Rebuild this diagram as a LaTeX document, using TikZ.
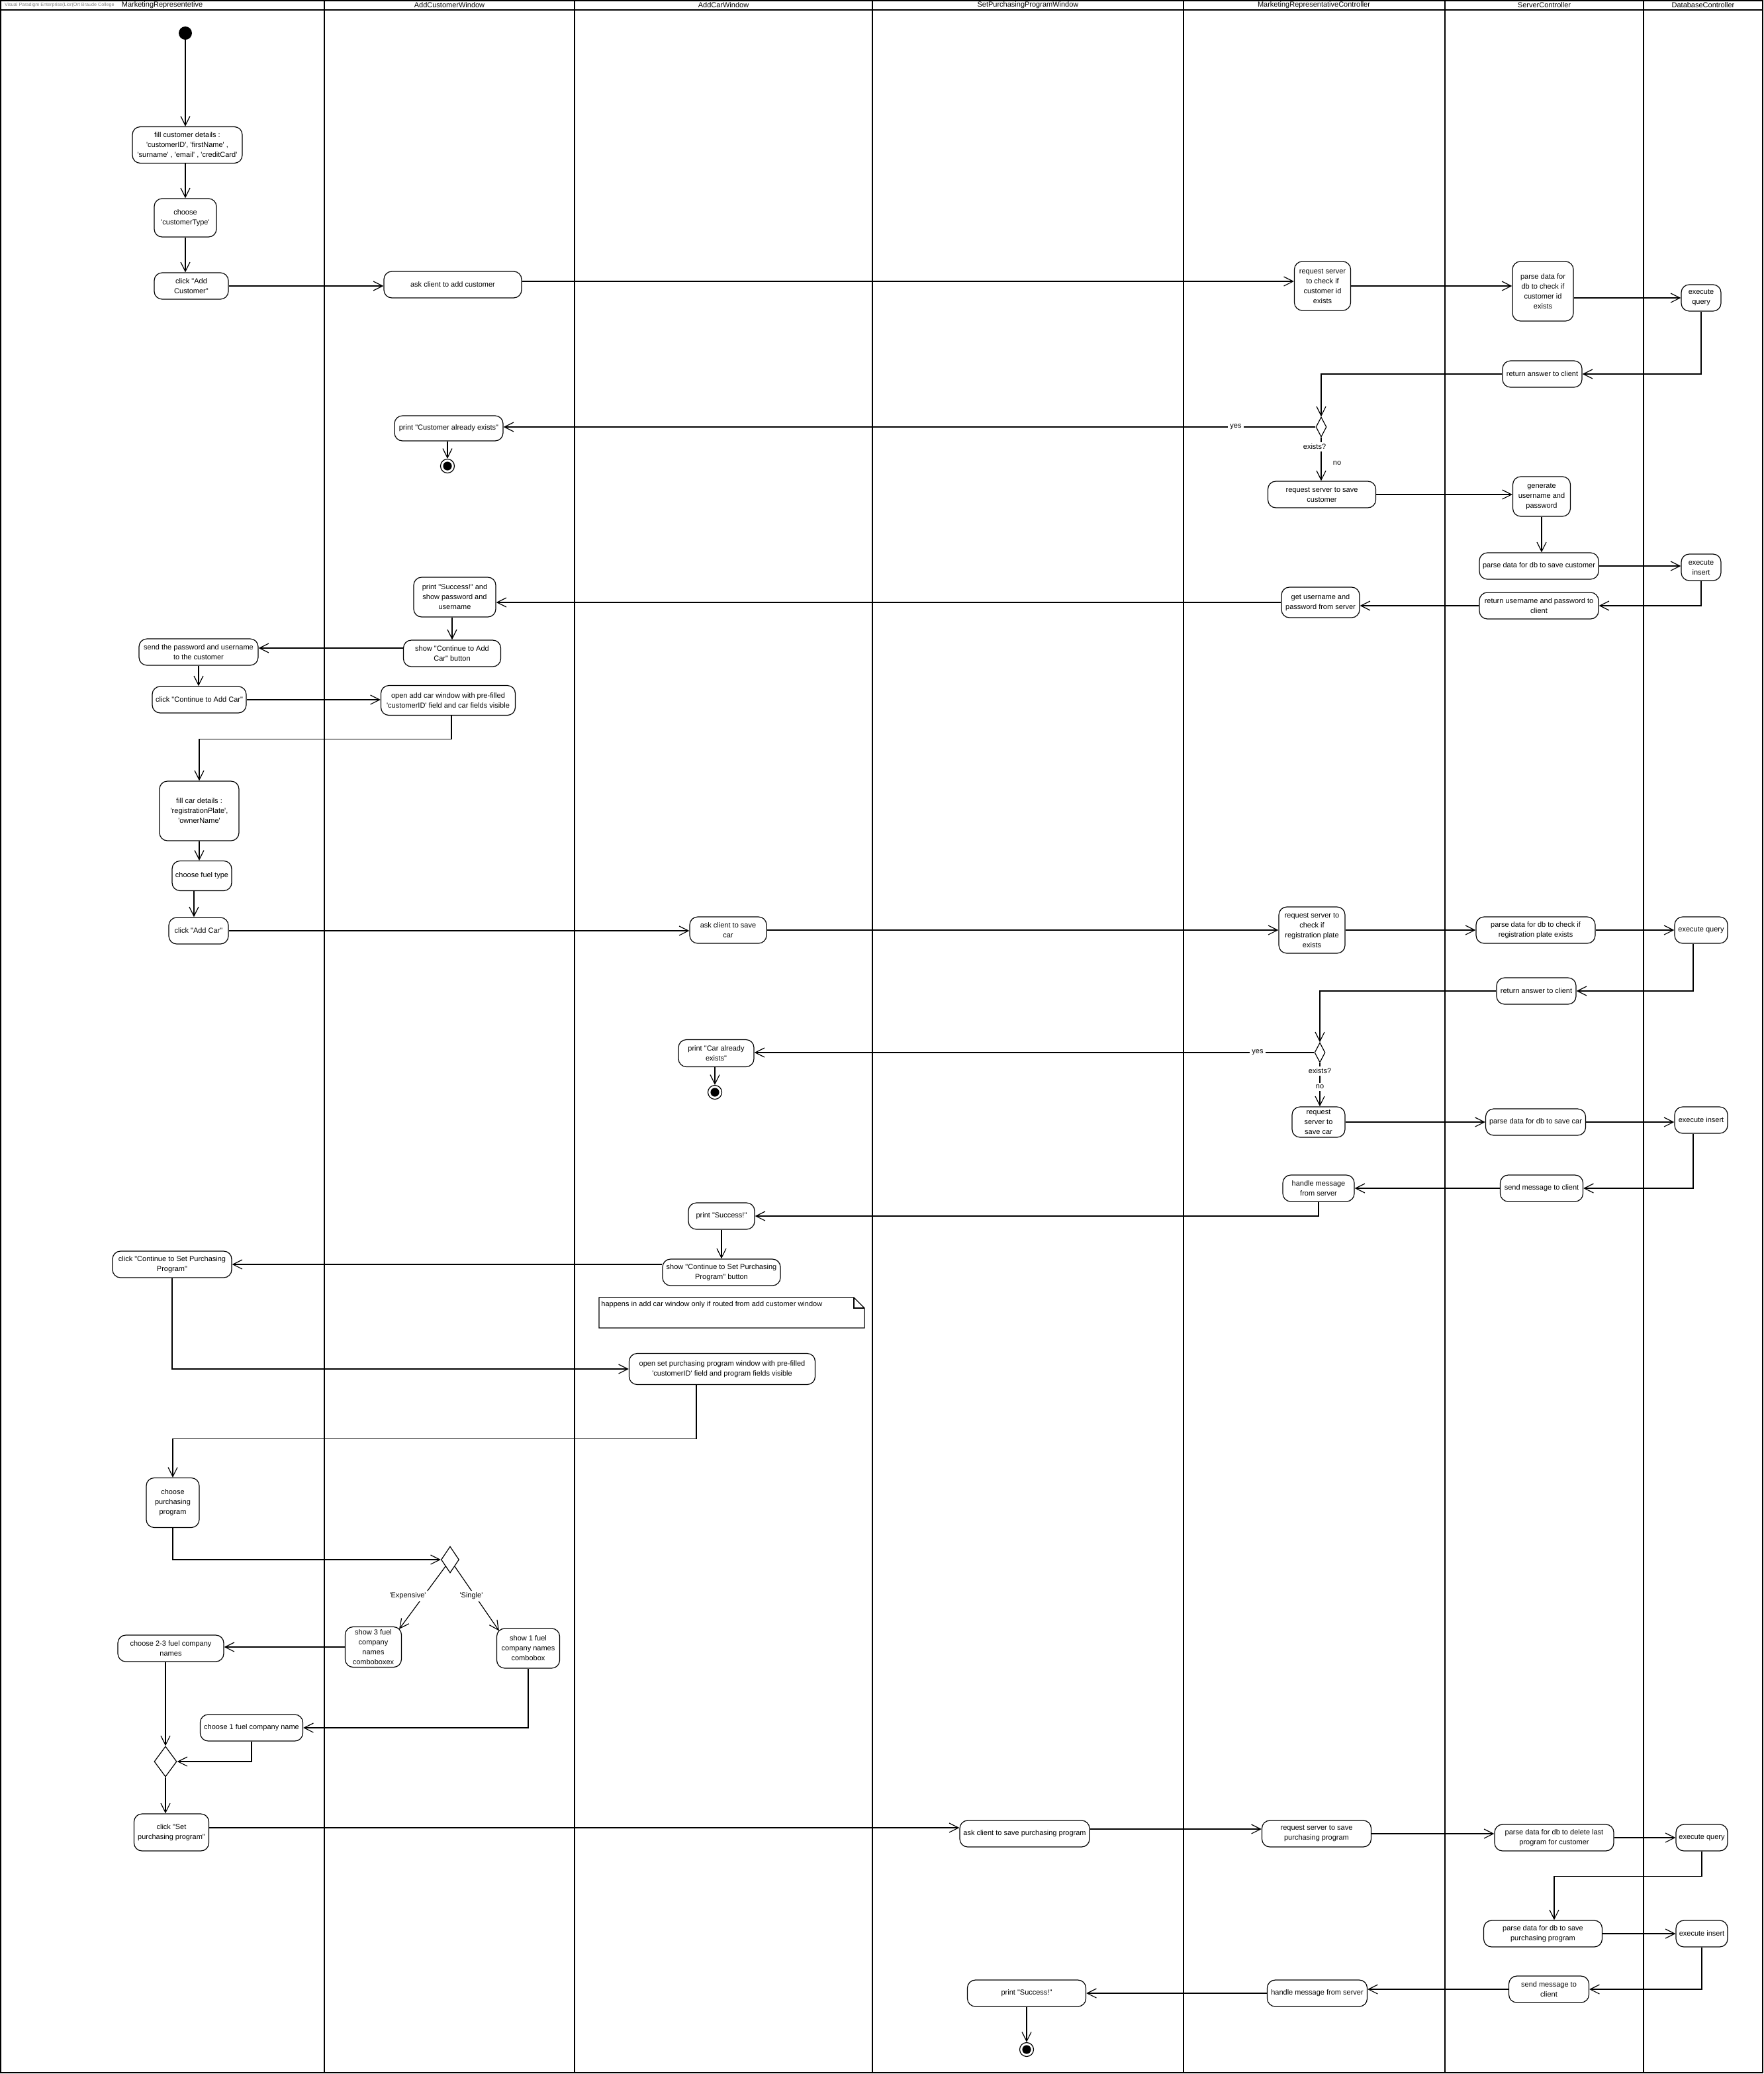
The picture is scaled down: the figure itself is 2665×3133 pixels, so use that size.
\documentclass[tikz,border=0pt]{standalone}
\usepackage{fontspec}
\setmainfont{Liberation Sans}[Ligatures=TeXOff]
\usetikzlibrary{arrows.meta,shapes.geometric}
\newcommand\bxfont{\fontsize{5.5pt}{7.5pt}\selectfont}

\begin{document}
\begin{tikzpicture}[x=0.5pt,y=-0.5pt,
  act/.style={draw, rounded corners=6pt, align=center, inner sep=1pt, font=\bxfont, line width=0.6pt},
  sz/.style 2 args={minimum width=#1*0.5pt, minimum height=#2*0.5pt},
  arr/.style={-{Straight Barb[length=7pt,width=7pt]}, line width=0.6pt},
  flow/.style={line width=0.6pt},
  lane/.style={line width=1.3pt},
  dec/.style={draw, diamond, inner sep=0pt, line width=0.6pt, fill=white},
  lbl/.style={fill=white, inner sep=1.5pt, font=\bxfont},
  start/.style={circle, fill=black, minimum size=10pt, inner sep=0pt},
  stop/.style={circle, draw, line width=0.6pt, minimum size=10.5pt, inner sep=0pt,
    path picture={\fill[black] (path picture bounding box.center) circle (3.3pt);}},
  title/.style={font=\bxfont},
]
\useasboundingbox (0,0) rectangle (2665,3133);

% swimlane frame
\draw[lane] (1,1) rectangle (2663,3131);
\draw[lane] (1,15) -- (2663,15);
\foreach \lx in {490,868,1318,1788,2183,2483}
  \draw[lane] (\lx,1) -- (\lx,3131);
\node[anchor=west, text=gray, font=\fontsize{3.6pt}{4pt}\selectfont] (wm) at (0,8) {Visual Paradigm Enterprise(Lior(Ort Braude College};
\node[title] (t1) at (245,8) {MarketingRepresentetive};
\node[title] (t2) at (679,8) {AddCustomerWindow};
\node[title] (t3) at (1093,8) {AddCarWindow};
\node[title] (t4) at (1553,8) {SetPurchasingProgramWindow};
\node[title] (t5) at (1985,8) {MarketingRepresentativeController};
\node[title] (t6) at (2333,8) {ServerController};
\node[title] (t7) at (2573,8) {DatabaseController};

% ---- add customer ----
\node[start] (init) at (280,50) {};
\node[act, sz={166}{55}] (fillcust) at (283,219) {fill customer details :\\'customerID', 'firstName' ,\\'surname' , 'email' , 'creditCard'};
\node[act, sz={94}{58}] (ctype) at (280,329) {choose\\'customerType'};
\node[act, sz={112}{40}] (clickac) at (289,432) {click "Add\\Customer"};
\node[act, sz={208}{40}] (askcust) at (684,430) {ask client to add customer};
\node[act, sz={85}{74}] (reqcid) at (1998,432) {request server\\to check if\\customer id\\exists};
\node[act, sz={92}{90}] (parsecid) at (2331,440) {parse data for\\db to check if\\customer id\\exists};
\node[act, sz={60}{40}] (exq1) at (2570,450) {execute\\query};
\node[act, sz={120}{40}] (ans1) at (2330,565) {return answer to client};
\node[dec, minimum width=8pt, minimum height=15pt] (dec1) at (1996,645) {};
\node[act, sz={164}{38}] (custexists) at (678,647) {print "Customer already exists"};
\node[stop] (end1) at (676,704) {};
\node[act, sz={163}{40}] (savecust) at (1997,747) {request server to save\\customer};
\node[act, sz={87}{60}] (genup) at (2329,750) {generate\\username and\\password};
\node[act, sz={180}{40}] (parsesave) at (2325,855) {parse data for db to save customer};
\node[act, sz={60}{40}] (exi1) at (2570,857) {execute\\insert};
\node[act, sz={180}{40}] (retup) at (2325,915) {return username and password to\\client};
\node[act, sz={118}{46}] (getup) at (1995,910) {get username and\\password from server};
\node[act, sz={124}{60}] (printok1) at (687,902) {print "Success!" and\\show password and\\username};
\node[act, sz={147}{40}] (showcont) at (683,987) {show "Continue to Add\\Car" button};
\node[act, sz={180}{40}] (sendpw) at (300,985) {send the password and username\\to the customer};
\node[act, sz={142}{40}] (clickcont) at (301,1057) {click "Continue to Add Car"};
\node[act, sz={203}{45}] (opencar) at (677,1058) {open add car window with pre-filled\\'customerID' field and car fields visible};

% ---- add car ----
\node[act, sz={120}{90}] (fillcar) at (301,1225) {fill car details :\\'registrationPlate',\\'ownerName'};
\node[act, sz={90}{45}] (fuel) at (305,1323) {choose fuel type};
\node[act, sz={90}{40}] (clickcar) at (300,1406) {click "Add Car"};
\node[act, sz={116}{40}] (askcar) at (1100,1405) {ask client  to save\\car};
\node[act, sz={100}{70}] (reqplate) at (1982,1405) {request server to\\check if\\registration plate\\exists};
\node[act, sz={180}{40}] (parseplate) at (2320,1405) {parse data for db to check if\\registration plate exists};
\node[act, sz={80}{40}] (exq2) at (2570,1405) {execute  query};
\node[act, sz={120}{40}] (ans2) at (2321,1497) {return answer to client};
\node[dec, minimum width=8pt, minimum height=15pt] (dec2) at (1994,1590) {};
\node[act, sz={114}{41}] (carexists) at (1082,1591) {print "Car already\\exists"};
\node[stop] (end2) at (1080,1650) {};
\node[act, sz={80}{46}] (savecar) at (1992,1695) {request\\server to\\save car};
\node[act, sz={151}{40}] (parsecar) at (2320,1695) {parse data for db to save car};
\node[act, sz={80}{40}] (exi2) at (2570,1692) {execute insert};
\node[act, sz={125}{40}] (msg2) at (2329,1795) {send message to client};
\node[act, sz={108}{40}] (handle2) at (1992,1795) {handle message\\from server};
\node[act, sz={100}{40}] (printok2) at (1090,1837) {print "Success!"};
\node[act, sz={178}{40}] (showspp) at (1090,1922) {show "Continue to Set Purchasing\\Program" button};
\node[act, sz={180}{40}] (clickspp) at (260,1910) {click "Continue to Set Purchasing\\Program"};

% note with folded corner
\draw[flow] (905,1960) -- (1290,1960) -- (1306,1976) -- (1306,2006) -- (905,2006) -- cycle;
\draw[flow] (1290,1960) -- (1290,1976) -- (1306,1976);
\node[anchor=north west, font=\bxfont, inner sep=1pt] (note) at (906,1963) {happens in add car window only if routed from add customer window};

% ---- purchasing program ----
\node[act, sz={281}{47}] (openspp) at (1091,2068) {open set purchasing program window with pre-filled\\'customerID' field and program fields visible};
\node[act, sz={80}{75}] (choosepp) at (261,2270) {choose\\purchasing\\program};
\node[dec, minimum width=13.5pt, minimum height=20pt] (dec3) at (680,2356) {};
\node[act, sz={85}{61}] (show3) at (564,2488) {show 3 fuel\\company\\names\\comboboxex};
\node[act, sz={95}{60}] (show1) at (798,2490) {show 1 fuel\\company names\\combobox};
\node[act, sz={160}{40}] (choose23) at (258,2490) {choose  2-3 fuel company\\names};
\node[act, sz={155}{40}] (choose1) at (380,2610) {choose  1 fuel company name};
\node[dec, minimum width=17pt, minimum height=23pt] (merge) at (250,2661) {};
\node[act, sz={113}{56}] (clickset) at (259,2768) {click "Set\\purchasing program"};
\node[act, sz={196}{40}] (asksave) at (1548,2770) {ask client to save purchasing program};
\node[act, sz={165}{40}] (reqsave) at (1989,2770) {request server to save\\purchasing program};
\node[act, sz={180}{40}] (parsedel) at (2348,2776) {parse data for db to delete last\\program for customer};
\node[act, sz={78}{40}] (exq3) at (2571,2776) {execute query};
\node[act, sz={179}{40}] (parsepp) at (2331,2921) {parse data for db to save\\purchasing program};
\node[act, sz={78}{40}] (exi3) at (2571,2921) {execute insert};
\node[act, sz={121}{40}] (msg3) at (2340,3005) {send message to\\client};
\node[act, sz={151}{40}] (handle3) at (1990,3011) {handle message from server};
\node[act, sz={179}{40}] (printok3) at (1551,3011) {print "Success!"};
\node[stop] (end3) at (1551,3096) {};

% connector start points that sit off a box's centre line
\coordinate (askcustout) at ([yshift=2.5pt]askcust.east);
\coordinate (showcontout) at ([yshift=4pt]showcont.west);
\coordinate (clicksetout) at ([yshift=3.5pt]clickset.east);
\coordinate (asksaveout) at ([yshift=3.5pt]asksave.east);

% ---- flows: add customer ----
\draw[arr] (init) -- (init |- fillcust.north);
\draw[arr] (ctype.north |- fillcust.south) -- (ctype.north);
\draw[arr] (ctype.south) -- (ctype.south |- clickac.north);
\draw[arr] (clickac.east) -- (askcust.west |- clickac.east);
\draw[arr] (askcustout) -- (reqcid.west |- askcustout);
\draw[arr] (reqcid.east) -- (parsecid.west |- reqcid.east);
\draw[arr] (parsecid.east |- exq1.west) -- (exq1.west);
\draw[arr] (exq1.south) |- (ans1.east);
\draw[arr] (ans1.west) -| (dec1.north);
\draw[arr] (dec1.west) -- (custexists.east |- dec1.west);
\node[lbl] (yes1) at (1867,645) {yes};
\draw[arr] (custexists.south -| end1) -- (end1.north);
\draw[arr] (dec1.south) -- (savecust.north -| dec1.south);
\node[lbl] (ex1) at (1986,675) {exists?};
\node[lbl, fill=none] (no1) at (2020,700) {no};
\draw[arr] (savecust.east) -- (genup.west |- savecust.east);
\draw[arr] (genup.south) -- (genup.south |- parsesave.north);
\draw[arr] (parsesave.east) -- (exi1.west |- parsesave.east);
\draw[arr] (exi1.south) |- (retup.east);
\draw[arr] (retup.west) -- (getup.east |- retup.west);
\draw[arr] (getup.west) -- (printok1.east |- getup.west);
\draw[arr] (printok1.south -| showcont) -- (showcont.north);
\draw[arr] (showcontout) -- (sendpw.east |- showcontout);
\draw[arr] (sendpw.south) -- (sendpw.south |- clickcont.north);
\draw[arr] (clickcont.east) -- (opencar.west |- clickcont.east);
\draw[arr] ([xshift=2.5pt]opencar.south) -- ++(0,35) -| (fillcar.north);

% ---- flows: add car ----
\draw[arr] (fillcar.south) -- (fillcar.south |- fuel.north);
\draw[arr] ([xshift=-6pt]fuel.south) -- ([xshift=-6pt]fuel.south |- clickcar.north);
\draw[arr] (clickcar.east) -- (askcar.west |- clickcar.east);
\draw[arr] (askcar.east) -- (reqplate.west |- askcar.east);
\draw[arr] (reqplate.east) -- (parseplate.west |- reqplate.east);
\draw[arr] (parseplate.east) -- (exq2.west |- parseplate.east);
\draw[arr] ([xshift=-6pt]exq2.south) |- (ans2.east);
\draw[arr] (ans2.west) -| (dec2.north);
\draw[arr] (dec2.west) -- (carexists.east |- dec2.west);
\node[lbl] (yes2) at (1900,1590) {yes};
\draw[arr] (carexists.south -| end2) -- (end2.north);
\draw[arr] (dec2.south) -- (savecar.north -| dec2.south);
\node[lbl] (ex2) at (1994,1618) {exists?};
\node[lbl] (no2) at (1994,1642) {no};
\draw[arr] (savecar.east) -- (parsecar.west |- savecar.east);
\draw[arr] (parsecar.east) -- (exi2.west |- parsecar.east);
\draw[arr] ([xshift=-6pt]exi2.south) |- (msg2.east);
\draw[arr] (msg2.west) -- (handle2.east |- msg2.west);
\draw[arr] (handle2.south) |- (printok2.east);
\draw[arr] (printok2.south) -- (printok2.south |- showspp.north);
\draw[arr] (showspp.west |- clickspp.east) -- (clickspp.east);
\draw[arr] (clickspp.south) |- (openspp.west);

% ---- flows: purchasing program ----
\draw[arr] ([xshift=-19.5pt]openspp.south) -- ++(0,81) -| (choosepp.north);
\draw[arr] (choosepp.south) |- (dec3.west);
\draw[arr] (dec3.south west) -- ([xshift=-2pt,yshift=-2pt]show3.north east);
\draw[arr] (dec3.south east) -- ([xshift=2pt,yshift=-2pt]show1.north west);
\node[lbl] (lexp) at (616,2411) {'Expensive'};
\node[lbl] (lsgl) at (712,2411) {'Single'};
\draw[arr] (show3.west) -- (choose23.east |- show3.west);
\draw[arr] (show1.south) |- (choose1.east);
\draw[arr] (choose23.south -| merge) -- (merge.north);
\draw[arr] (choose1.south) |- (merge.east);
\draw[arr] (merge.south) -- (merge.south |- clickset.north);
\draw[arr] (clicksetout) -- (asksave.west |- clicksetout);
\draw[arr] (asksaveout) -- (reqsave.west |- asksaveout);
\draw[arr] (reqsave.east) -- (parsedel.west |- reqsave.east);
\draw[arr] (parsedel.east) -- (exq3.west |- parsedel.east);
\draw[arr] (exq3.south) -- ++(0,38) -| ([xshift=8.5pt]parsepp.north);
\draw[arr] (parsepp.east) -- (exi3.west |- parsepp.east);
\draw[arr] (exi3.south) |- (msg3.east);
\draw[arr] (msg3.west) -- (handle3.east |- msg3.west);
\draw[arr] (handle3.west) -- (printok3.east |- handle3.west);
\draw[arr] (printok3.south) -- (end3.north);
\end{tikzpicture}
\end{document}
